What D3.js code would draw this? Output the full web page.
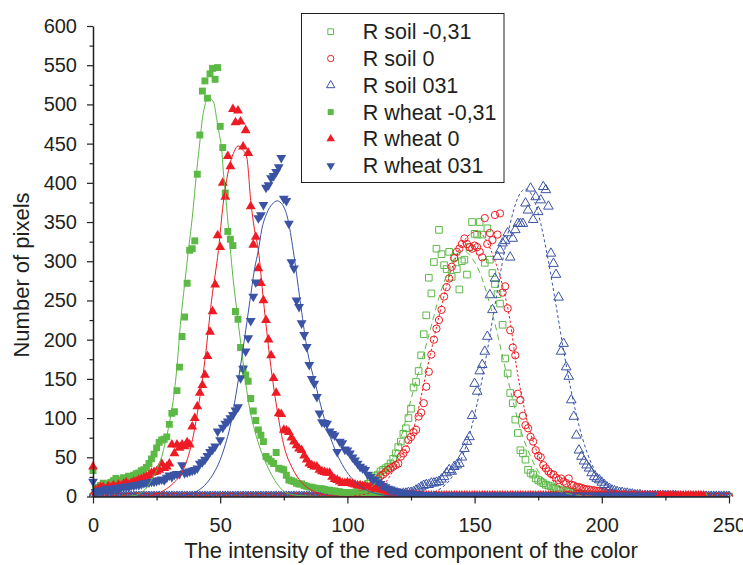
<!DOCTYPE html>
<html>
<head>
<meta charset="utf-8">
<script src="https://cdnjs.cloudflare.com/ajax/libs/d3/7.8.5/d3.min.js"></script>
<style>
  body { margin: 0; background: #fff; }
  svg { display: block; font-family: "Liberation Sans", Arial, sans-serif; }
</style>
</head>
<body>
<script>
// --- data: pixel counts per red intensity (index = intensity 0..250) ---
var soilM031 = [
  0,0,0,0,0,0,0,0,0,0, 0,0,0,0,0,0,0,0,0,0, 0,0,0,0,0,0,0,0,0,0,
  0,0,0,0,0,0,0,0,0,0, 0,0,0,0,0,0,0,0,0,0, 0,0,0,0,0,0,0,0,0,0,
  0,0,0,0,0,0,0,0,0,0, 0,0,0,0,0,0,0,0,0,0, 0,0,0,0,0,0,0,0,0,0,
  0,0,0,0,0,0,0,0,0,1,
  2,3,4,5,6,8,10,13,16,20,
  24,26,28,32,34,36,38,42,48,55,
  63,70,80,87,100,112,139,146,160,180,
  207,231,279,259,299,316,340,309,295,290,
  312,280,305,290,264,300,302,283,318,350,
  335,334,350,334,298,342,302,285,271,258,
  246,219,176,157,132,119,98,81,59,55,
  47,34,30,28,23,21,19,17,15,14,
  13,11,10,9,8,7,7,6,6,5,
  4,4,3,3,3,2,2,2,2,2,
  2,1,1,1,1,1,1,1,1,1,
  0,0,0,0,0,0,0,0,0,0, 0,0,0,0,0,0,0,0,0,0, 0,0,0,0,0,0,0,0,0,0,
  0,0,0,0,0,0,0,0,0,0, 0
];
var soil0 = [
  0,0,0,0,0,0,0,0,0,0, 0,0,0,0,0,0,0,0,0,0, 0,0,0,0,0,0,0,0,0,0,
  0,0,0,0,0,0,0,0,0,0, 0,0,0,0,0,0,0,0,0,0, 0,0,0,0,0,0,0,0,0,0,
  0,0,0,0,0,0,0,0,0,0, 0,0,0,0,0,0,0,0,0,0, 0,0,0,0,0,0,0,0,0,0,
  0,0,0,0,0,0,0,0,0,0,
  0,1,1,2,2,3,4,5,7,9,
  15,18,22,26,28,31,34,36,38,40,
  42,51,55,60,72,76,82,85,102,107,
  119,140,159,181,200,214,225,238,255,267,
  278,293,304,312,316,322,329,322,318,316,
  320,318,312,305,355,322,336,327,359,334,
  361,260,268,240,212,190,180,131,123,103,
  91,87,76,70,59,52,50,40,36,32,
  29,28,24,21,23,19,17,23,15,14,
  12,12,11,10,9,9,8,8,7,7,
  6,6,5,4,4,3,3,2,2,2,
  2,1,1,1,1,1,1,1,1,1,
  0,0,0,0,0,0,0,0,0,0, 0,0,0,0,0,0,0,0,0,0, 0,0,0,0,0,0,0,0,0,0, 0
];
var soil031 = [
  0,0,0,0,0,0,0,0,0,0, 0,0,0,0,0,0,0,0,0,0, 0,0,0,0,0,0,0,0,0,0,
  0,0,0,0,0,0,0,0,0,0, 0,0,0,0,0,0,0,0,0,0, 0,0,0,0,0,0,0,0,0,0,
  0,0,0,0,0,0,0,0,0,0, 0,0,0,0,0,0,0,0,0,0, 0,0,0,0,0,0,0,0,0,0,
  0,0,0,0,0,0,0,0,0,0, 0,0,0,0,0,0,0,0,0,0,
  1,1,1,1,2,2,2,2,3,3,
  3,3,4,4,5,5,6,8,10,12,
  14,15,15,17,17,18,19,22,25,30,
  34,32,38,40,42,50,61,70,76,103,
  144,134,160,168,185,204,257,238,278,306,
  314,323,326,336,305,329,340,348,348,348,
  374,365,393,353,382,363,378,395,391,370,
  310,297,283,254,185,195,165,153,123,102,
  78,59,51,45,40,36,30,25,23,21,
  18,15,12,10,8,7,6,5,5,4,
  4,3,3,2,2,2,1,1,1,1,
  1,1,1,1,1,1,1,1,1,1, 0,0,0,0,0,0,0,0,0,0, 0,0,0,0,0,0,0,0,0,0, 0
];
var wheatM031 = [
  33,10,12,14,17,13,16,18,20,23,
  19,21,24,22,26,25,27,29,30,33,
  34,37,42,48,54,62,69,72,73,76,
  92,106,108,135,165,204,229,272,314,316,
  326,411,461,517,530,508,539,546,532,547,
  472,445,387,338,328,320,236,226,190,163,
  155,147,125,109,97,85,78,70,51,48,
  45,42,56,36,35,34,27,21,20,19,
  17,16,16,14,13,12,12,11,10,10,
  10,9,8,8,7,7,6,6,5,5,
  5,4,4,4,3,3,3,3,2,2,
  2,2,2,2,1,1,1,1,1,1,
  1,1,1,1,1,1,1,1,1,0,
  0,0,0,0,0,0,0,0,0,0, 0,0,0,0,0,0,0,0,0,0, 0,0,0,0,0,0,0,0,0,0,
  0,0,0,0,0,0,0,0,0,0, 0,0,0,0,0,0,0,0,0,0, 0,0,0,0,0,0,0,0,0,0,
  0,0,0,0,0,0,0,0,0,0, 0,0,0,0,0,0,0,0,0,0, 0,0,0,0,0,0,0,0,0,0,
  0,0,0,0,0,0,0,0,0,0, 0,0,0,0,0,0,0,0,0,0, 0
];
var wheat0 = [
  38,8,10,12,12,9,13,11,14,12,
  15,13,16,18,15,17,19,19,21,22,
  24,25,27,30,31,32,34,42,36,38,
  42,66,55,66,62,66,64,69,66,89,
  100,115,132,142,155,179,210,236,270,333,
  318,400,382,434,421,494,477,492,478,446,
  467,438,370,321,331,291,272,250,225,200,
  180,151,132,106,105,85,84,82,75,70,
  65,61,59,52,47,42,40,38,38,34,
  32,31,30,30,25,22,21,19,17,17,
  18,17,16,15,14,14,13,13,12,12,
  11,10,10,9,8,7,6,5,4,4,
  3,3,2,2,2,2,2,2,1,1,
  1,1,1,1,1,1,1,1,1,1, 1,1,1,1,1,1,1,1,1,1, 1,1,1,1,1,1,1,1,1,1,
  1,1,1,1,1,1,1,1,1,1, 1,1,1,1,1,1,1,1,1,1, 1,1,1,1,1,1,1,1,1,1,
  1,1,1,1,1,1,1,1,1,1, 1,1,1,1,1,1,1,1,1,1, 1,1,1,1,1,1,1,1,1,1,
  1,1,1,1,1,1,1,1,1,1, 1,1,1,1,1,1,1,1,1,1, 1
];
var wheat031 = [
  19,6,7,8,8,10,9,9,10,11,
  10,12,12,13,12,14,14,15,15,16,
  17,17,18,19,19,20,21,22,21,24,
  27,25,28,29,29,40,30,31,32,33,
  34,36,42,44,47,52,57,60,64,83,
  72,88,93,96,100,104,110,114,151,163,
  185,202,224,255,273,355,359,372,394,397,
  406,409,414,420,432,380,377,348,299,291,
  250,242,221,206,191,168,150,144,127,106,
  95,94,93,83,80,78,57,70,68,60,
  59,55,50,46,42,38,36,34,28,25,
  22,21,18,16,14,12,10,9,8,7,
  6,5,5,4,4,3,3,3,2,2,
  2,2,2,2,1,1,1,1,1,1,
  1,1,1,1,1,1,1,1,1,1, 1,1,1,1,1,1,1,1,1,1, 1,1,1,1,1,1,1,1,1,1,
  1,1,1,1,1,1,1,1,1,1, 1,1,1,1,1,1,1,1,1,1, 1,1,1,1,1,1,1,1,1,1,
  1,1,1,1,1,1,1,1,1,1, 1,1,1,1,1,1,1,1,1,1, 1
];

// fitted curves, [intensity, count]
var fitSoilM031 = [[0,0],[95,0],[100,2],[105,5],[110,14],[115,33],[120.7,72],[125.9,135],[131.2,196],
  [136.4,258],[140,290],[144.3,312],[146,313],[148,308],[152.1,285],[157.4,228],[162.6,156],
  [167.8,88],[173,44],[178,19],[183,7],[190,2],[200,0],[250,0]];
var fitSoil0 = [[0,0],[100,0],[105,2],[110,6],[115,18],[120,45],[125.9,85],[131.2,161],[136.4,235],
  [140,280],[144,315],[148,334],[151,338],[154,330],[157.5,305],[161.3,265],[163.9,225],
  [166.5,165],[170.4,100],[175.7,48],[180,23],[185,9],[190,3],[195,1],[200,0],[250,0]];
var fitSoil031 = [[0,0],[120,0],[125,0.5],[130,2],[134,5.4],[137,11],[140,20],[143,35],[146,58],
  [149,91],[152,134],[155,186],[158,244],[161,300],[164,348],[167,381],[170,392],[173,381],
  [176,348],[179,300],[182,244],[185,186],[188,134],[191,91],[194,58],[197,35],[200,20],
  [203,11],[206,5],[210,2],[215,0.5],[220,0],[250,0]];
var fitWheatM031 = [[0,0],[12,0],[16,1],[18.5,4],[21,11],[23.7,25],[25.5,37],[27,51],[28.5,70],
  [30,93],[31.5,122],[33,165],[34.5,225],[36,270],[37.5,314],[39,355],[40.8,416],[42.1,455],
  [43,482],[44,499],[45,510],[46.7,506],[47.6,501],[48.6,482],[49.6,463],[50.6,442],[51.2,416],
  [52.5,370],[53.9,318],[55,280],[56.5,238],[58.4,187],[60.4,136],[62,105],[63.5,85],[65,68],
  [67,50],[69.5,32],[72.2,17],[74.5,8],[77.5,3],[82,1],[90,0],[250,0]];
var fitWheat0 = [[0,0],[20,0],[25,3],[28,8],[31.6,17],[35.5,34],[38.8,68],[41.4,114],[44,174],
  [46.6,250],[49.3,314],[51.2,374],[53.9,425],[55.5,440],[57,447],[58.5,443],[60.4,433],
  [62.1,374],[63.5,340],[65,314],[67,250],[69.6,174],[72.2,114],[74.8,68],[78.7,34],[81,22],
  [84,12],[88,5],[93,1],[100,0],[250,0]];
var fitWheat031 = [[0,0],[30,0],[35,1],[38,3],[41,7],[44.7,17],[47.5,30],[49.9,46],[52,66],
  [53.9,89],[56.5,136],[59.1,191],[61.7,250],[63.5,290],[65,314],[66.3,340],[68.3,361],
  [70.5,373],[72.4,377],[74.5,372],[76.5,355],[78.7,314],[81.4,250],[84,191],[88,136],
  [90,110],[91.9,89],[94.5,65],[97.1,46],[100.5,28],[103.7,17],[107,9],[111,4],[116,1],
  [125,0],[250,0]];

var legendLabels = ["R soil -0,31", "R soil 0", "R soil 031", "R wheat -0,31", "R wheat 0", "R wheat 031"];
var xTicks = [0, 50, 100, 150, 200, 250];
var xMinor = [25, 75, 125, 175, 225];
var yTicks = [0, 50, 100, 150, 200, 250, 300, 350, 400, 450, 500, 550, 600];
var yMinor = [25, 75, 125, 175, 225, 275, 325, 375, 425, 475, 525, 575];

window.onload = function() {
  var w = 743, h = 565;
  var green = "#5cb946", red = "#ed1c24", blue = "#3a53a4", ink = "#231f20";

  var svg = d3.select("body").append("svg")
    .attr("width", w)
    .attr("height", h);

  var x = d3.scaleLinear().domain([0, 250]).range([93, 729]);
  var y = d3.scaleLinear().domain([0, 600]).range([496.5, 26]);

  var series = [
    { vals: soilM031, fit: fitSoilM031, color: green, shape: d3.symbolSquare, size: 44, filled: false, rot: 0, dash: "6,4" },
    { vals: soil0, fit: fitSoil0, color: red, shape: d3.symbolCircle, size: 42, filled: false, rot: 0, dash: "2.5,2" },
    { vals: soil031, fit: fitSoil031, color: blue, shape: d3.symbolTriangle, size: 40, filled: false, rot: 0, dash: "3,2.5" },
    { vals: wheatM031, fit: fitWheatM031, color: green, shape: d3.symbolSquare, size: 48, filled: true, rot: 0, dash: null },
    { vals: wheat0, fit: fitWheat0, color: red, shape: d3.symbolTriangle, size: 42, filled: true, rot: 0, dash: null },
    { vals: wheat031, fit: fitWheat031, color: blue, shape: d3.symbolTriangle, size: 42, filled: true, rot: 180, dash: null }
  ];

  svg.append("clipPath").attr("id", "plotClip")
    .append("rect")
    .attr("x", 0).attr("y", 0)
    .attr("width", w).attr("height", y(0));

  // --- scatter points ---
  var marks = svg.append("g").attr("clip-path", "url(#plotClip)");
  series.forEach(function(s) {
    var sym = d3.symbol().type(s.shape).size(s.size);
    marks.append("g").selectAll("path")
      .data(s.vals.map(function(v, i) { return [i, v]; }))
      .enter()
      .append("path")
      .attr("d", sym)
      .attr("transform", function(d) { return "translate(" + x(d[0]) + "," + y(d[1]) + ") rotate(" + s.rot + ")"; })
      .style("fill", s.filled ? s.color : "none")
      .style("stroke", s.filled ? "none" : s.color)
      .style("stroke-width", 1);
  });

  // --- fitted curves ---
  var line = d3.line()
    .x(function(d) { return x(d[0]); })
    .y(function(d) { return y(d[1]); })
    .curve(d3.curveMonotoneX);
  series.forEach(function(s) {
    svg.append("path")
      .datum(s.fit)
      .attr("d", line)
      .style("fill", "none")
      .style("stroke", s.color)
      .style("stroke-width", 1)
      .style("stroke-dasharray", s.dash);
  });

  // --- axes ---
  svg.append("g")
    .attr("transform", "translate(0," + y(0) + ")")
    .call(d3.axisBottom(x).tickValues(xTicks).tickSize(7).tickSizeOuter(0).tickPadding(14));
  svg.append("g")
    .attr("transform", "translate(0," + y(0) + ")")
    .call(d3.axisBottom(x).tickValues(xMinor).tickSize(4).tickSizeOuter(0).tickFormat(""))
    .select(".domain").remove();

  svg.append("g")
    .attr("transform", "translate(" + x(0) + ",0)")
    .call(d3.axisLeft(y).tickValues(yTicks).tickSize(6).tickSizeOuter(0).tickPadding(10));
  svg.append("g")
    .attr("transform", "translate(" + x(0) + ",0)")
    .call(d3.axisLeft(y).tickValues(yMinor).tickSize(3.5).tickSizeOuter(0).tickFormat(""))
    .select(".domain").remove();

  svg.selectAll(".domain").style("stroke", ink).style("stroke-width", 1.5);
  svg.selectAll(".tick line").style("stroke", ink).style("stroke-width", 1.2);
  svg.selectAll(".tick text")
    .style("font-family", "'Liberation Sans', Arial, sans-serif")
    .style("font-size", "20px")
    .style("fill", ink);

  // --- axis titles ---
  svg.append("text")
    .attr("x", 411)
    .attr("y", 558)
    .attr("text-anchor", "middle")
    .style("font-size", "22px")
    .style("fill", ink)
    .text("The intensity of the red component of the color");

  svg.append("text")
    .attr("transform", "translate(29,275) rotate(-90)")
    .attr("text-anchor", "middle")
    .style("font-size", "22px")
    .style("fill", ink)
    .text("Number of pixels");

  // --- legend ---
  var legend = svg.append("g");
  legend.append("rect")
    .attr("x", 301.5).attr("y", 13.5)
    .attr("width", 202.5).attr("height", 169)
    .style("fill", "#fff")
    .style("stroke", ink)
    .style("stroke-width", 1);

  series.forEach(function(s, i) {
    var cy = 31.7 + i * 26.8;
    legend.append("path")
      .attr("d", d3.symbol().type(s.shape).size(s.size * 0.75))
      .attr("transform", "translate(330.7," + cy + ") rotate(" + s.rot + ")")
      .style("fill", s.filled ? s.color : "none")
      .style("stroke", s.filled ? "none" : s.color)
      .style("stroke-width", 1);
    legend.append("text")
      .attr("x", 362.7)
      .attr("y", cy + 7.5)
      .style("font-size", "21.5px")
      .style("fill", ink)
      .text(legendLabels[i]);
  });
};
</script>
</body>
</html>
